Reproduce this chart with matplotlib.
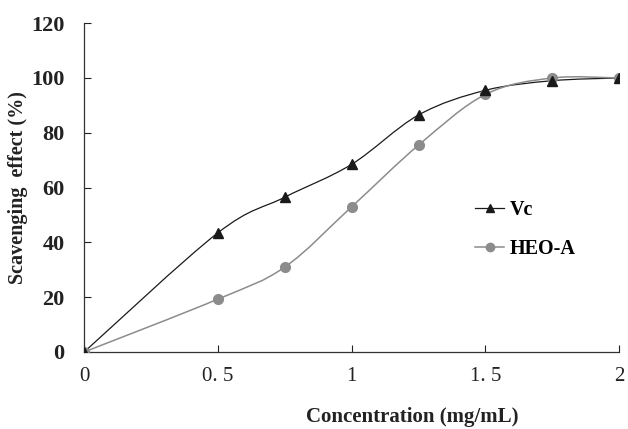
import matplotlib
matplotlib.use("Agg")
import matplotlib.pyplot as plt
from matplotlib.path import Path
from matplotlib.patches import PathPatch
from matplotlib.lines import Line2D
import numpy as np

conc = [0, 0.5, 0.75, 1.0, 1.25, 1.5, 1.75, 2.0]
vc = [0, 43.5, 56.5, 68.5, 86.5, 95.5, 99.0, 100.0]
heo = [0, 19.3, 31.0, 53.0, 75.5, 94.0, 100.0, 100.0]
series_names = ["Vc", "HEO-A"]
xticks = [0, 0.5, 1, 1.5, 2]
xticklabels = ["0", "0. 5", "1", "1. 5", "2"]
yticks = [0, 20, 40, 60, 80, 100, 120]

plt.rcParams['font.family'] = ['Liberation Serif', 'DejaVu Serif']

fig = plt.figure(figsize=(6.28, 4.29), dpi=100)
ax = fig.add_axes([0.134, 0.1795, 0.852, 0.7665])


def smooth_path(xs, ys, k=1/6):
    xs = np.asarray(xs, float); ys = np.asarray(ys, float)
    verts = [(xs[0], ys[0])]
    codes = [Path.MOVETO]
    n = len(xs)
    for i in range(n - 1):
        p0 = np.array([xs[max(i-1, 0)], ys[max(i-1, 0)]])
        p1 = np.array([xs[i], ys[i]])
        p2 = np.array([xs[i+1], ys[i+1]])
        p3 = np.array([xs[min(i+2, n-1)], ys[min(i+2, n-1)]])
        c1 = p1 + (p2 - p0) * k
        c2 = p2 - (p3 - p1) * k
        verts += [tuple(c1), tuple(c2), tuple(p2)]
        codes += [Path.CURVE4] * 3
    return Path(verts, codes)

c_vc = "#1a1a1a"
c_heo = "#8c8c8c"
ax.add_patch(PathPatch(smooth_path(conc, vc), fill=False, edgecolor=c_vc, lw=0.9, zorder=2))
ax.add_patch(PathPatch(smooth_path(conc, heo), fill=False, edgecolor=c_heo, lw=1.1, zorder=2))
ax.plot(conc, heo, linestyle='none', marker='o', ms=7, color=c_heo, zorder=3)
ax.plot(conc, vc, linestyle='none', marker='^', ms=7, color=c_vc, zorder=4)

ax.set_xlim(0, 2)
ax.set_ylim(0, 120)
ax.set_xticks(xticks)
ax.set_xticklabels(xticklabels, fontsize=15)
ax.set_yticks(yticks)
ax.set_yticklabels([str(v) for v in yticks], fontsize=16, fontweight='bold')
ax.tick_params(axis='x', direction='in', length=5, width=0.8, pad=11, colors='#222222')
ax.tick_params(axis='y', direction='in', length=5, width=0.8, pad=14, colors='#222222')
for s in ['top', 'right']:
    ax.spines[s].set_visible(False)
for s in ['left', 'bottom']:
    ax.spines[s].set_linewidth(0.9)
    ax.spines[s].set_color('#333333')

ax.set_xlabel("Concentration (mg/mL)", fontsize=15, fontweight='bold', color='#222222')
ax.xaxis.set_label_coords(0.614, -0.168)
ax.set_ylabel("Scavenging  effect (%)", fontsize=14.5, fontweight='bold', color='#222222')
ax.yaxis.set_label_coords(-0.105, 0.5)

handles = [Line2D([], [], color=c_vc, lw=0.9, marker='^', ms=6),
           Line2D([], [], color=c_heo, lw=1.1, marker='o', ms=6)]
leg = ax.legend(handles, series_names, loc='center left', bbox_to_anchor=(0.731, 0.372),
                frameon=False, borderaxespad=0, borderpad=0,
                handlelength=1.45, handletextpad=0.25, labelspacing=0.95,
                prop={'family': ['Liberation Serif'], 'weight': 'bold', 'size': 14.5})
ax.patch.set_alpha(0)
fig.savefig("out.png", dpi=100)
